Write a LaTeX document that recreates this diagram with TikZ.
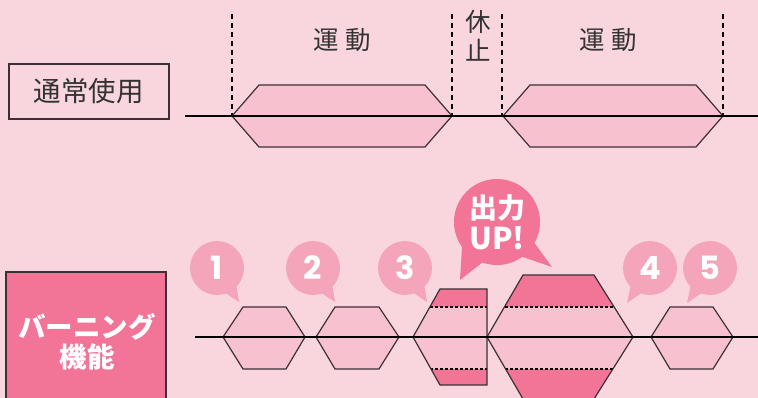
\documentclass[tikz,border=0pt]{standalone}
\usepackage{fontspec}
\newfontfamily\jpfont{Noto Sans CJK JP}
\newfontfamily\numfont{Poppins}
\definecolor{bg}{HTML}{F9D6DE}
\definecolor{hexlight}{HTML}{F8C1CF}
\definecolor{darkpink}{HTML}{F27598}
\definecolor{bubblepink}{HTML}{F5A5BA}
\definecolor{outline}{HTML}{3A3035}
\definecolor{txt}{HTML}{333333}
\begin{document}
\begin{tikzpicture}[x=1pt,y=-1pt,
  outl/.style={draw=outline,line width=1.2pt,line join=miter},
  baseln/.style={draw=black,line width=2pt},
  vdash/.style={draw=black,line width=1.2pt,dash pattern=on 5pt off 4pt},
  hdash/.style={draw=black,line width=1.2pt,dash pattern=on 3pt off 2pt},
  toptxt/.style={text=txt,font=\jpfont\fontsize{25.5}{27}\selectfont,inner sep=0pt},
  numtxt/.style={text=white,font=\numfont\bfseries\fontsize{32}{32}\selectfont,inner sep=0pt},
  boldtxt/.style={text=white,font=\jpfont\bfseries\fontsize{27.5}{30}\selectfont,inner sep=0pt},
  bubblefill/.style={fill=bubblepink},
  bigbubblefill/.style={fill=darkpink}]
\useasboundingbox[fill=bg] (0,0) rectangle (758,398);

% ---------- top: normal use ----------
\node[draw=outline,line width=1.2pt,minimum width=160pt,minimum height=55pt,inner sep=0pt] (normalbox) at (89,91.5) {};
\node[toptxt,font=\jpfont\fontsize{27.5}{27}\selectfont] (normaltxt) at (normalbox.center) {通常使用};

\coordinate (d1t) at (232,14); \coordinate (d1b) at (232,116);
\coordinate (d2t) at (452,14); \coordinate (d2b) at (452,116);
\coordinate (d3t) at (502,14); \coordinate (d3b) at (502,116);
\coordinate (d4t) at (723,14); \coordinate (d4b) at (723,116);
\draw[vdash] (d1t) -- (d1b);
\draw[vdash] (d2t) -- (d2b);
\draw[vdash] (d3t) -- (d3b);
\draw[vdash] (d4t) -- (d4b);

\filldraw[outl,fill=hexlight] (232,116) -- (259,85) -- (425,85) -- (452,116) -- (425,147) -- (259,147) -- cycle;
\filldraw[outl,fill=hexlight] (503,116) -- (530,85) -- (696,85) -- (723,116) -- (696,147) -- (530,147) -- cycle;

\coordinate (tl0) at (185,116); \coordinate (tl1) at (758,116);
\draw[baseln] (tl0) -- (tl1);

\node[toptxt] (mv1) at (342,40) {運\hspace{7pt}動};
\node[toptxt] (mv2) at (608,40) {運\hspace{7pt}動};
\node[toptxt] (rest1) at (478,22) {休};
\node[toptxt] (rest2) at (478,50) {止};

% ---------- bottom: burning ----------
\filldraw[outl,fill=darkpink] (6,272) rectangle (166,420);
\node[boldtxt] (burn1) at (87,327) {バーニング};
\node[boldtxt] (burn2) at (87,357) {機能};

% small hexagons
\filldraw[outl,fill=hexlight] (223,337) -- (243,307) -- (286,307) -- (305,337) -- (286,369) -- (243,369) -- cycle;
\filldraw[outl,fill=hexlight] (316,337) -- (335,307) -- (379,307) -- (399,337) -- (379,369) -- (335,369) -- cycle;
\filldraw[outl,fill=hexlight] (651,337) -- (670,307) -- (713,307) -- (733,337) -- (713,369) -- (670,369) -- cycle;

% cut hexagon
\begin{scope}
\clip (413,337) -- (440,289) -- (487,289) -- (487,385) -- (440,385) -- cycle;
\fill[darkpink] (400,280) rectangle (500,400);
\fill[hexlight] (400,307) rectangle (500,369);
\draw[hdash] (400,307) -- (500,307);
\draw[hdash] (400,369) -- (500,369);
\end{scope}
\draw[outl] (413,337) -- (440,289) -- (487,289) -- (487,385) -- (440,385) -- cycle;

% big hexagon
\begin{scope}
\clip (487,337) -- (523,275) -- (594,275) -- (633,337) -- (594,399) -- (523,399) -- cycle;
\fill[darkpink] (480,270) rectangle (640,410);
\fill[hexlight] (480,307) rectangle (640,369);
\draw[hdash] (480,307) -- (640,307);
\draw[hdash] (480,369) -- (640,369);
\end{scope}
\draw[outl] (487,337) -- (523,275) -- (594,275) -- (633,337) -- (594,399) -- (523,399) -- cycle;

\coordinate (bl0) at (195,337); \coordinate (bl1) at (758,337);
\draw[baseln] (bl0) -- (bl1);

% bubbles
\coordinate (b1) at (217,268); \coordinate (t1) at (239,302);
\coordinate (b2) at (313,268); \coordinate (t2) at (335,302);
\coordinate (b3) at (405,268); \coordinate (t3) at (427,302);
\coordinate (b4) at (650,268); \coordinate (t4) at (627,303);
\coordinate (b5) at (710,268); \coordinate (t5) at (687,303);
\foreach \b/\t in {b1/t1,b2/t2,b3/t3}{
  \fill[bubblefill] (\b) circle (27);
  \fill[bubblefill] ([shift={(42:26)}]\b) -- (\t) -- ([shift={(72:26)}]\b) -- cycle;
}
\foreach \b/\t in {b4/t4,b5/t5}{
  \fill[bubblefill] (\b) circle (27);
  \fill[bubblefill] ([shift={(108:26)}]\b) -- (\t) -- ([shift={(138:26)}]\b) -- cycle;
}
\node[numtxt] (n1) at (b1) {1};
\node[numtxt] (n2) at (b2) {2};
\node[numtxt] (n3) at (b3) {3};
\node[numtxt] (n4) at (b4) {4};
\node[numtxt] (n5) at (b5) {5};

% big bubble
\coordinate (bb) at (497,222);
\coordinate (bbl) at (460,280);
\coordinate (bbr) at (552,267);
\fill[bigbubblefill] (bb) circle (43);
\fill[bigbubblefill] ([shift={(108:41)}]bb) -- (bbl) -- ([shift={(148:41)}]bb) -- cycle;
\fill[bigbubblefill] ([shift={(28:41)}]bb) -- (bbr) -- ([shift={(56:41)}]bb) -- cycle;
\node[boldtxt,font=\jpfont\bfseries\fontsize{28}{30}\selectfont] (up1) at (497,208) {出力};
\node[boldtxt,font=\jpfont\bfseries\fontsize{30}{30}\selectfont] (up2) at (497,238) {UP!};
\end{tikzpicture}
\end{document}
